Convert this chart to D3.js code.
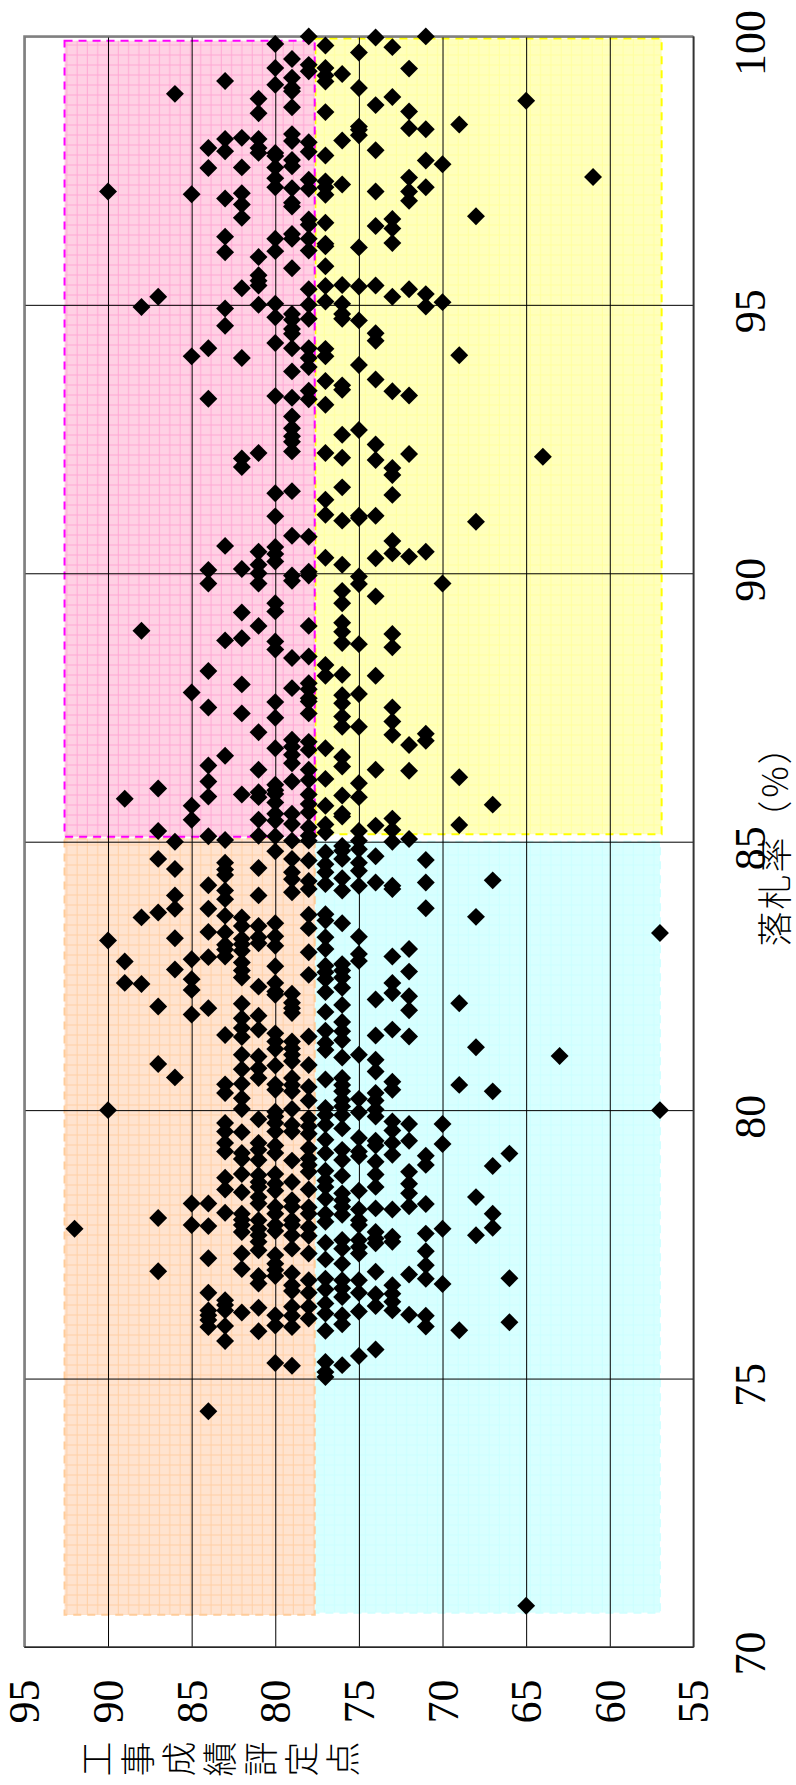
<!DOCTYPE html>
<html lang="ja">
<head>
<meta charset="utf-8">
<title>落札率と工事成績評定点</title>
<script src="https://cdn.jsdelivr.net/npm/d3@7"></script>
<style>
  html, body { margin: 0; padding: 0; background: #fff; }
  svg { display: block; }
  text { fill: #000; }
  .tick-label { font-family: "Liberation Serif", serif; font-size: 44px; }
  .axis-title { font-family: "Noto Sans CJK JP", sans-serif; font-size: 35px; font-weight: 300; }
</style>
</head>
<body>
<div id="chart"></div>
<script>
const scoreTicks = [95, 90, 85, 80, 75, 70, 65, 60, 55];
const rateTicks = [100, 95, 90, 85, 80, 75, 70];
const scoreTitle = "工事成績評定点";
const rateTitle = "落札率（%）";

const r92 = [77.79];
const r90 = [97.11, 83.16, 80.0];
const r89 = [85.80, 82.77, 82.37];
const r88 = [94.96, 88.93, 83.59, 82.35];
const r87 = [95.15, 85.99, 85.20, 84.68, 83.68, 81.93, 80.86, 77.99, 77.0];
const r86 = [98.93, 85.0, 84.49, 84.0, 83.75, 83.20, 82.62, 80.61];
const r85 = [97.06, 94.04, 87.78, 85.67, 85.41, 82.81, 82.44, 82.24, 81.78, 78.26, 77.86];
const r84 = [97.92, 97.55, 94.19, 93.25, 90.06, 89.81, 88.18, 87.50, 86.42, 86.12, 85.84, 85.10, 84.19, 83.75, 83.32, 82.85, 81.90, 78.26, 77.84, 77.24, 76.60, 76.27, 76.18, 76.09, 75.96, 74.39];
const r83 = [99.17, 98.09, 97.86, 96.98, 96.27, 95.98, 94.93, 94.61, 90.51, 88.75, 86.60, 85.03, 84.61, 84.48, 84.38, 84.09, 83.93, 83.62, 83.31, 83.08, 82.99, 82.86, 81.40, 80.48, 80.32, 79.76, 79.60, 79.39, 79.23, 78.74, 78.52, 78.09, 76.46, 76.37, 76.27, 75.98, 75.70];
const r82 = [98.11, 97.56, 97.08, 96.87, 96.62, 95.31, 94.01, 92.14, 91.98, 90.08, 89.27, 88.79, 87.93, 87.39, 85.88, 83.59, 83.43, 83.19, 83.09, 82.97, 82.75, 82.60, 82.47, 81.98, 81.71, 81.53, 81.36, 81.03, 80.76, 80.49, 80.22, 80.02, 79.59, 79.20, 79.09, 78.81, 78.47, 78.07, 77.96, 77.86, 77.73, 77.33, 77.04, 76.23];
const r81 = [98.84, 98.57, 98.09, 97.92, 97.83, 95.89, 95.55, 95.45, 95.36, 95.0, 92.24, 90.40, 90.16, 90.0, 89.81, 89.02, 87.04, 86.34, 85.92, 85.83, 85.41, 85.11, 84.51, 84.0, 83.43, 83.22, 83.11, 82.30, 81.76, 81.50, 81.0, 80.78, 80.60, 79.83, 79.39, 79.26, 79.07, 78.79, 78.66, 78.57, 78.38, 78.26, 77.95, 77.79, 77.67, 77.55, 77.39, 76.91, 76.77, 76.32, 75.88];
const r80 = [99.86, 99.41, 99.10, 97.83, 97.77, 97.56, 97.36, 97.19, 96.23, 96.0, 95.02, 94.77, 94.29, 93.30, 91.49, 91.06, 90.49, 90.36, 90.22, 89.44, 89.29, 88.73, 88.58, 87.60, 87.31, 86.74, 86.06, 85.96, 85.89, 85.73, 85.52, 85.39, 85.10, 84.82, 83.48, 83.24, 83.06, 82.68, 82.37, 82.21, 82.15, 81.43, 81.28, 81.14, 80.83, 80.48, 80.38, 79.97, 79.88, 79.76, 79.60, 79.34, 79.20, 78.81, 78.63, 78.50, 78.20, 78.07, 77.86, 77.75, 77.30, 77.14, 77.02, 76.91, 76.18, 75.99, 75.29];
const r79 = [99.58, 99.23, 99.04, 98.98, 98.68, 98.18, 98.05, 97.70, 97.58, 97.17, 96.90, 96.83, 96.32, 96.23, 95.68, 94.83, 94.72, 94.55, 94.46, 94.19, 93.76, 93.27, 92.92, 92.70, 92.55, 92.45, 92.27, 91.53, 90.70, 89.96, 89.86, 88.42, 87.86, 86.90, 86.77, 86.62, 86.46, 86.12, 85.52, 85.33, 85.02, 84.68, 84.43, 84.30, 84.06, 82.17, 82.0, 81.90, 81.81, 81.28, 81.15, 81.03, 80.91, 80.60, 80.47, 80.35, 80.02, 79.73, 79.60, 79.06, 78.66, 78.32, 78.20, 77.95, 77.86, 77.67, 77.42, 76.96, 76.74, 76.63, 76.34, 76.17, 75.96, 75.24];
const r78 = [100.0, 99.47, 99.35, 98.03, 97.85, 97.33, 97.16, 96.59, 96.49, 96.23, 96.01, 95.29, 95.0, 94.74, 94.19, 94.01, 93.84, 93.40, 93.24, 90.68, 90.03, 89.96, 89.02, 88.45, 87.95, 87.84, 87.67, 87.61, 87.39, 86.86, 86.71, 86.34, 86.15, 85.88, 85.70, 85.55, 85.27, 85.11, 85.02, 84.65, 84.27, 84.12, 83.64, 83.39, 82.94, 82.52, 81.37, 80.84, 80.43, 80.18, 79.85, 79.70, 79.56, 79.29, 79.10, 78.98, 78.85, 78.52, 78.19, 78.07, 77.82, 77.66, 77.33, 76.83, 76.60, 76.34, 76.12];
const r77 = [99.83, 99.41, 99.27, 99.16, 98.59, 97.78, 97.30, 97.19, 97.05, 96.53, 96.14, 96.09, 95.72, 95.35, 95.06, 94.18, 94.04, 93.58, 93.14, 92.24, 91.37, 91.09, 90.29, 88.29, 88.09, 86.74, 86.17, 85.67, 85.32, 85.17, 84.80, 84.58, 84.43, 84.21, 83.65, 83.53, 83.22, 83.0, 82.69, 82.57, 82.44, 82.20, 81.83, 81.48, 81.25, 81.12, 80.57, 80.04, 79.91, 79.73, 79.45, 79.20, 78.87, 78.69, 78.57, 78.35, 78.07, 77.92, 77.53, 77.22, 76.86, 76.66, 76.40, 76.21, 75.89, 75.31, 75.12, 75.03];
const r76 = [99.30, 98.06, 97.24, 95.37, 95.02, 94.83, 94.74, 93.50, 93.42, 92.58, 92.15, 91.60, 90.98, 90.16, 89.67, 89.44, 89.08, 88.91, 88.70, 88.11, 87.73, 87.58, 87.33, 87.14, 86.58, 86.40, 85.86, 85.52, 85.47, 84.92, 84.83, 84.68, 84.32, 84.09, 83.48, 82.72, 82.60, 82.47, 82.28, 81.96, 81.64, 81.47, 81.30, 80.98, 80.60, 80.47, 80.35, 80.19, 80.07, 79.91, 79.66, 79.26, 79.07, 78.78, 78.45, 78.32, 78.20, 78.05, 77.58, 77.42, 77.14, 76.83, 76.68, 76.52, 76.18, 76.01, 75.25];
const r75 = [99.70, 99.04, 98.32, 98.26, 98.16, 96.07, 95.34, 94.71, 93.88, 92.67, 91.07, 91.03, 89.94, 89.80, 88.68, 87.75, 87.14, 86.09, 85.83, 85.20, 85.02, 84.86, 84.61, 84.46, 84.18, 83.23, 82.91, 82.78, 81.03, 80.21, 79.96, 79.48, 79.23, 79.14, 78.50, 78.15, 77.95, 77.86, 77.58, 77.45, 77.33, 76.83, 76.60, 76.25, 75.42];
const r74 = [99.98, 98.72, 97.88, 97.11, 96.47, 95.36, 94.47, 94.33, 93.61, 92.40, 92.11, 91.07, 90.28, 89.57, 88.09, 86.34, 85.30, 84.73, 84.24, 82.06, 81.39, 80.94, 80.72, 80.32, 80.18, 80.01, 79.88, 79.43, 79.34, 79.04, 78.80, 78.57, 78.17, 77.73, 77.61, 77.52, 76.99, 76.57, 76.35, 75.54];
const r73 = [99.80, 98.87, 96.60, 96.42, 96.15, 95.15, 93.39, 91.96, 91.83, 91.46, 90.60, 90.37, 88.87, 88.62, 87.50, 87.24, 86.99, 85.43, 85.22, 85.0, 84.18, 84.12, 82.86, 82.37, 82.18, 81.50, 80.53, 80.38, 79.79, 79.62, 79.39, 79.17, 78.15, 77.64, 77.55, 76.74, 76.58, 76.43, 76.27];
const r72 = [99.40, 98.60, 98.29, 97.37, 97.11, 96.94, 95.29, 93.31, 92.22, 90.31, 86.80, 86.32, 85.05, 83.0, 82.58, 82.12, 81.86, 81.37, 79.74, 79.43, 78.85, 78.63, 78.45, 78.21, 76.94, 76.19];
const r71 = [100.0, 98.27, 97.69, 97.19, 95.20, 94.97, 90.40, 87.01, 86.88, 84.66, 84.24, 83.76, 79.15, 78.98, 78.25, 77.70, 77.37, 77.11, 76.86, 76.17, 75.97];
const r70 = [97.62, 95.05, 89.81, 79.74, 79.37, 77.79, 76.76];
const r69 = [98.36, 94.06, 86.20, 85.31, 81.99, 80.47, 75.90];
const r68 = [96.65, 90.96, 83.60, 81.17, 78.38, 77.67];
const r67 = [85.69, 84.28, 80.35, 78.96, 78.07, 77.81];
const r66 = [79.19, 76.87, 76.05];
const r65 = [98.80, 70.77];
const r64 = [92.17];
const r63 = [81.01];
const r61 = [97.38];
const r57 = [83.30, 80.0];

const scores = [92, 90, 89, 88, 87, 86, 85, 84, 83, 82, 81, 80, 79, 78, 77, 76, 75, 74, 73, 72, 71, 70, 69, 68, 67, 66, 65, 64, 63, 61, 57];
const rateLists = [r92, r90, r89, r88, r87, r86, r85, r84, r83, r82, r81, r80, r79, r78, r77, r76, r75, r74, r73, r72, r71, r70, r69, r68, r67, r66, r65, r64, r63, r61, r57];

// shaded zones: [score high, score low, rate high, rate low]
const zoneNames = ["cyan", "orange", "yellow", "pink"];
const zoneBounds = [
  [77.6, 57.0, 85.0, 70.64],
  [92.6, 77.64, 85.06, 70.6],
  [77.6, 56.9, 99.96, 85.14],
  [92.6, 77.64, 99.92, 85.09],
];
const zoneFill = { pink: "#ffd0e4", yellow: "#ffffbc", orange: "#ffe3cf", cyan: "#d8ffff" };
const zoneLine = { pink: "#ffa8d4", yellow: "#ffffa0", orange: "#ffd0a6", cyan: "#ccffff" };
const zoneEdge = { pink: "#ff00ff", yellow: "#ffff00", orange: "#ffcc99", cyan: "#d0ffff" };

const width = 796, height = 1785;
const plotLeft = 24.4, plotRight = 693.4, plotTop = 36.4, plotBottom = 1647;

const x = d3.scaleLinear().domain([95, 55]).range([plotLeft, plotRight]);
const y = d3.scaleLinear().domain([100, 70]).range([plotTop, plotBottom]);

const svg = d3.select("#chart").append("svg").attr("width", width).attr("height", height);
const defs = svg.append("defs");

zoneNames.forEach((name) => {
  const pat = defs.append("pattern")
    .attr("id", `fill-${name}`)
    .attr("patternUnits", "userSpaceOnUse")
    .attr("width", 10.3)
    .attr("height", 10);
  pat.append("rect").attr("width", 10.3).attr("height", 10).attr("fill", zoneFill[name]);
  pat.append("path")
    .attr("d", "M5 0V10M0 5H10.3")
    .attr("stroke", zoneLine[name])
    .attr("stroke-width", 1);
});

svg.append("g").selectAll("rect")
  .data(zoneNames.map((name, i) => ({ name, b: zoneBounds[i] })))
  .join("rect")
  .attr("x", (d) => x(d.b[0]))
  .attr("y", (d) => y(d.b[2]))
  .attr("width", (d) => x(d.b[1]) - x(d.b[0]))
  .attr("height", (d) => y(d.b[3]) - y(d.b[2]))
  .attr("fill", (d) => `url(#fill-${d.name})`)
  .attr("stroke", (d) => zoneEdge[d.name])
  .attr("stroke-width", 2)
  .attr("stroke-dasharray", "8 6");

// grid comes from the axes, labels turned with the rest of the sheet
const scoreAxis = svg.append("g")
  .attr("transform", `translate(0,${plotBottom})`)
  .call(d3.axisBottom(x).tickValues(scoreTicks).tickFormat(d3.format("d")).tickSize(-(plotBottom - plotTop)));
const rateAxis = svg.append("g")
  .attr("transform", `translate(${plotRight},0)`)
  .call(d3.axisRight(y).tickValues(rateTicks).tickFormat(d3.format("d")).tickSize(-(plotRight - plotLeft)));

[scoreAxis, rateAxis].forEach((axis) => {
  axis.select(".domain").remove();
  axis.attr("font-family", null).attr("font-size", null);
  axis.selectAll("line").attr("stroke", "#000").attr("stroke-width", 1);
});

scoreAxis.selectAll("text")
  .attr("class", "tick-label")
  .attr("x", 0).attr("y", 0).attr("dy", "0.33em")
  .attr("text-anchor", "middle")
  .attr("transform", "translate(0,54.5) rotate(-90)");
rateAxis.selectAll("text")
  .attr("class", "tick-label")
  .attr("x", 0).attr("y", 0).attr("dy", "0.33em")
  .attr("text-anchor", "middle")
  .attr("transform", "translate(56.6,6) rotate(-90)");

// frame: the top and left edges print grey, the others dark
const frame = svg.append("g").attr("fill", "none");
frame.append("path").attr("d", `M${plotLeft},${plotBottom}V${plotTop}H${plotRight}`).attr("stroke", "#808080").attr("stroke-width", 2.4);
frame.append("path").attr("d", `M${plotLeft},${plotBottom}H${plotRight}V${plotTop}`).attr("stroke", "#333").attr("stroke-width", 1.6);

const points = scores.flatMap((score, i) => rateLists[i].map((rate) => ({ score, rate })));
const diamond = d3.symbol().type(d3.symbolDiamond2).size(205);

svg.append("g").selectAll("path")
  .data(points)
  .join("path")
  .attr("d", diamond)
  .attr("transform", (d) => `translate(${x(d.score)},${y(d.rate)})`)
  .attr("fill", "#000");

// score title: upright vertical writing in the source, so each glyph is turned on its own
svg.append("g").selectAll("text")
  .data(Array.from(scoreTitle))
  .join("text")
  .attr("class", "axis-title")
  .attr("text-anchor", "middle")
  .attr("dy", "0.36em")
  .attr("transform", (d, i) => `translate(${97 + i * 41},1759) rotate(-90)`)
  .text((d) => d);

// rate title: the brackets sit wide apart in the reference, so glyphs are spaced by hand
const rateGlyphAt = [929, 892, 855, 818, 782, 747];
svg.append("g").selectAll("text")
  .data(Array.from(rateTitle))
  .join("text")
  .attr("class", "axis-title")
  .attr("text-anchor", "middle")
  .attr("dy", "0.36em")
  .attr("transform", (d, i) => `translate(775,${rateGlyphAt[i]}) rotate(-90)`)
  .text((d) => d);
</script>
</body>
</html>
